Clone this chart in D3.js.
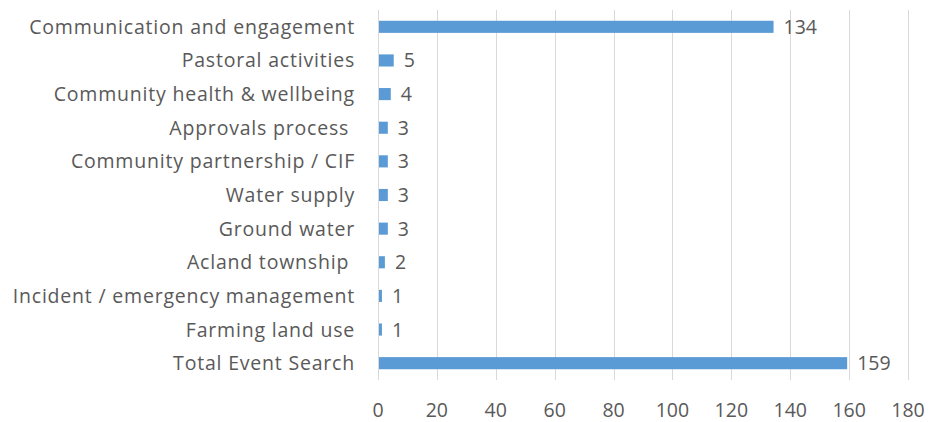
<!DOCTYPE html>
<meta charset="utf-8">
<style>
body { margin: 0; background: #fff; }
text { font-family: "Open Sans", sans-serif; fill: #595959; white-space: pre; font-size: 19.5px; }
.cat { letter-spacing: 0.8px; }
.grid line { stroke: #d9d9d9; stroke-width: 1px; }
.bar { fill: #5b9bd5; }
</style>
<body>
<script src="https://cdn.jsdelivr.net/npm/d3@7"></script>
<script>
var categories = ["Communication and engagement", "Pastoral activities", "Community health & wellbeing",
  "Approvals process ", "Community partnership / CIF", "Water supply", "Ground water",
  "Acland township ", "Incident / emergency management", "Farming land use", "Total Event Search"];
var values = [134, 5, 4, 3, 3, 3, 3, 2, 1, 1, 159];
var xTicks = [0, 20, 40, 60, 80, 100, 120, 140, 160, 180];

var width = 930, height = 422;
var margin = {left: 378, right: 22, top: 10, bottom: 42};

var svg = d3.select("body").append("svg")
    .attr("width", width)
    .attr("height", height);

var x = d3.scaleLinear().domain([0, 180]).range([margin.left, width - margin.right]);
var y = d3.scaleBand().domain(categories).range([margin.top, height - margin.bottom]).paddingInner(0.64).paddingOuter(0.32);

svg.append("g").attr("class", "grid")
  .selectAll("line").data(xTicks)
  .enter().append("line")
    .attr("x1", function(d) { return Math.round(x(d)) + 0.5; })
    .attr("x2", function(d) { return Math.round(x(d)) + 0.5; })
    .attr("y1", margin.top)
    .attr("y2", height - margin.bottom);

svg.selectAll(".bar").data(values)
  .enter().append("rect")
    .attr("class", "bar")
    .attr("x", x(0) + 1)
    .attr("y", function(d, i) { return y(categories[i]); })
    .attr("width", function(d) { return x(d) - x(0); })
    .attr("height", y.bandwidth());

svg.selectAll(".val").data(values)
  .enter().append("text")
    .attr("class", "val")
    .attr("x", function(d) { return x(d) + 11; })
    .attr("y", function(d, i) { return y(categories[i]) + y.bandwidth() / 2; })
    .attr("dy", "0.36em")
    .text(function(d) { return d; });

svg.selectAll(".cat").data(categories)
  .enter().append("text")
    .attr("class", "cat")
    .attr("x", margin.left - 23)
    .attr("y", function(d) { return y(d) + y.bandwidth() / 2; })
    .attr("dy", "0.36em")
    .attr("text-anchor", "end")
    .text(function(d) { return d; });

svg.selectAll(".tick-label").data(xTicks)
  .enter().append("text")
    .attr("class", "tick-label")
    .attr("x", function(d) { return x(d); })
    .attr("y", 410)
    .attr("dy", "0.36em")
    .attr("text-anchor", "middle")
    .text(function(d) { return d; });
</script>
